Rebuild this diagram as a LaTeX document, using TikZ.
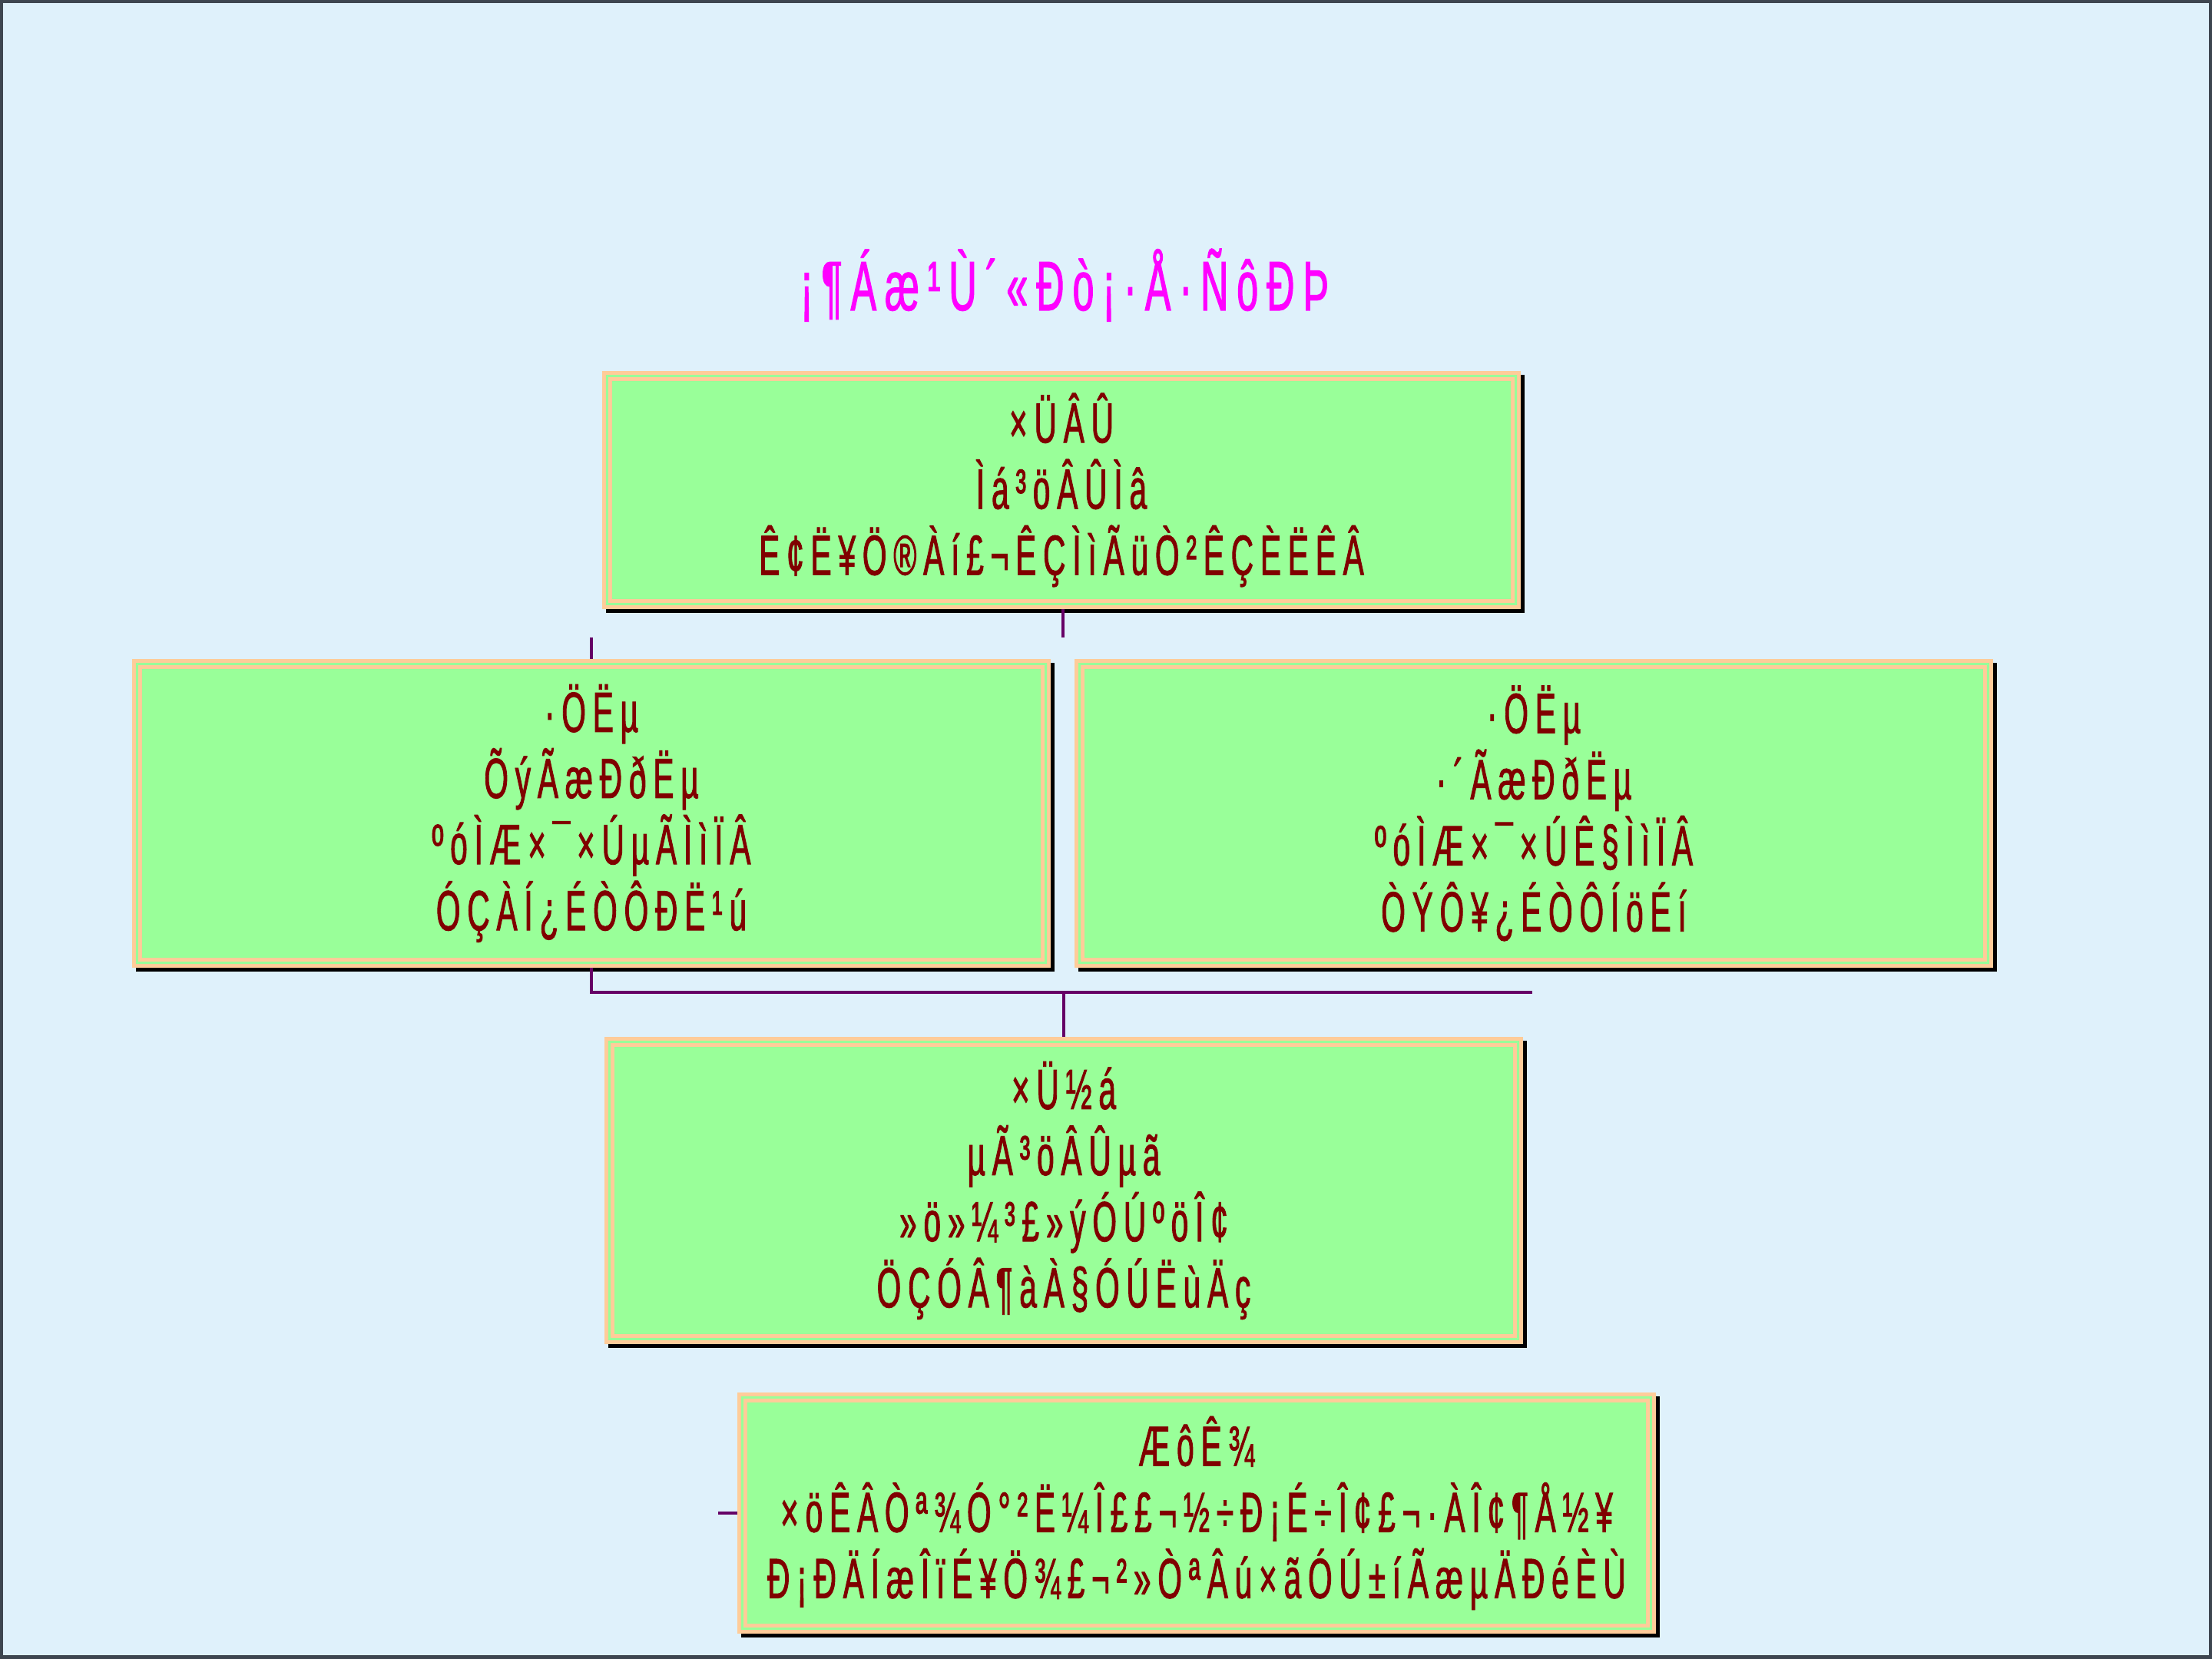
\documentclass[tikz,border=0pt]{standalone}
\usepackage{fontspec}
\newfontfamily\luanma[FakeStretch=0.55,LetterSpace=12,FakeBold=1.2]{Liberation Sans}
\usepackage{tikz}
\usepackage{xcolor}
\definecolor{BgBlue} {RGB}{223,241,251}
\definecolor{FrameD} {RGB}{62, 70, 80}
\definecolor{LvSe}   {RGB}{153,255,153}
\definecolor{Peach}  {RGB}{255,204,153}
\definecolor{TextR}  {RGB}{128,  0,  0}
\definecolor{TitleM} {RGB}{255,  0,255}
\definecolor{LineZ}  {RGB}{102,  0,102}

\begin{document}
\begin{tikzpicture}[
    kuang/.style={draw=Peach,fill=LvSe,line width=0.13cm,
      minimum width=11.83cm,inner sep=0pt,align=center,
      font=\luanma\fontsize{21}{24.5}\selectfont,text=TextR,
      preaction={draw=black,fill=black,line width=0.13cm,
        transform canvas={shift={(0.05cm,-0.05cm)}}},
      postaction={draw=LvSe,line width=0.035cm}},
    lian/.style={draw=LineZ,line width=0.04cm}]
    \useasboundingbox (0,0) rectangle (28.8,21.6);
    \fill[FrameD] (0,0) rectangle (28.8,21.6);
    \fill[BgBlue] (0.045,0.045) rectangle (28.755,21.555);
    \node[font=\luanma\fontsize{26}{30}\selectfont,text=TitleM,anchor=base] (biaoti)
      at (13.86,17.56) {¡¶Áæ¹Ù´«Ðò¡·Å·ÑôÐÞ};
    \node[kuang,minimum height=2.97cm] (zong) at (13.82,15.22)
      {×ÜÂÛ\\Ìá³öÂÛÌâ\\Ê¢Ë¥Ö®Àí£¬ÊÇÌìÃüÒ²ÊÇÈËÊÂ};
    \node[kuang,minimum height=3.89cm] (fen1) at (7.70,11.01)
      {·ÖËµ\\ÕýÃæÐðËµ\\ºóÌÆ×¯×ÚµÃÌìÏÂ\\ÓÇÀÍ¿ÉÒÔÐË¹ú};
    \node[kuang,minimum height=3.89cm] (fen2) at (19.97,11.01)
      {·ÖËµ\\·´ÃæÐðËµ\\ºóÌÆ×¯×ÚÊ§ÌìÏÂ\\ÒÝÔ¥¿ÉÒÔÍöÉí};
    \node[kuang,minimum height=3.87cm] (jie) at (13.85,6.10)
      {×Ü½á\\µÃ³öÂÛµã\\»ö»¼³£»ýÓÚºöÎ¢\\ÖÇÓÂ¶àÀ§ÓÚËùÄç};
    \node[kuang,minimum height=3.01cm] (qi) at (15.58,1.90)
      {ÆôÊ¾\\×öÊÂÒª¾Ó°²Ë¼Î££¬½÷Ð¡É÷Î¢£¬·ÀÎ¢¶Å½¥\\Ð¡ÐÄÍæÎïÉ¥Ö¾£¬²»ÒªÂú×ãÓÚ±íÃæµÄÐéÈÙ};
    \coordinate (zx) at (13.84,13.30);
    \coordinate (hy) at (19.95,8.68);
    \coordinate (qz) at (9.35,1.92);
    \draw[lian] (zong.south -| zx) -- (zx);
    \draw[lian] (fen1.north) -- (fen1.north |- zx);
    \draw[lian] (fen1.south) |- (hy);
    \draw[lian] (jie.north) -- (jie.north |- hy);
    \draw[lian] (qi.west) -- (qi.west -| qz);
\end{tikzpicture}
\end{document}
